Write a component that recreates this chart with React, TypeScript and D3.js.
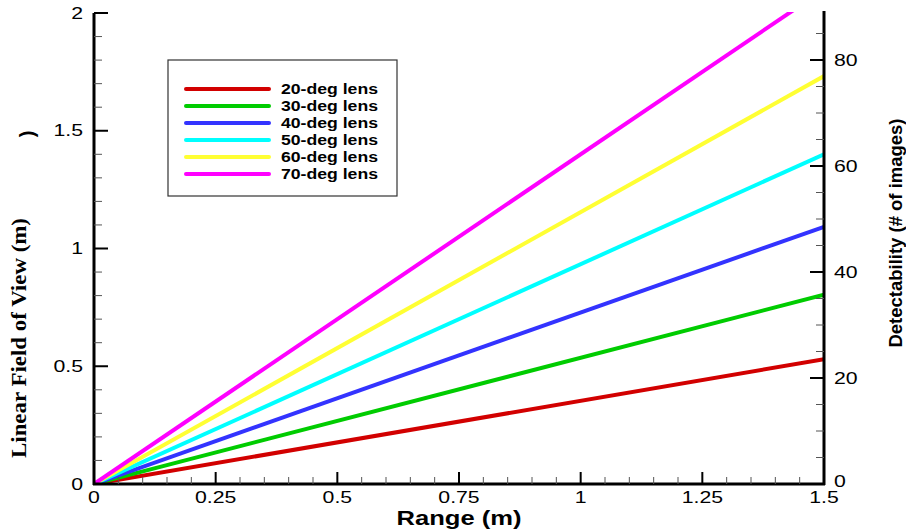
import React from "react";
import * as d3 from "d3";

const lensLabels = ["20-deg lens", "30-deg lens", "40-deg lens", "50-deg lens", "60-deg lens", "70-deg lens"];
const lensColors = ["#d20000", "#00cc00", "#3333ff", "#00ffff", "#ffff33", "#ff00ff"];
const rangeValues = [0, 1.5];
const fov20 = [0, 0.53];
const fov30 = [0, 0.804];
const fov40 = [0, 1.092];
const fov50 = [0, 1.4];
const fov60 = [0, 1.732];
const fov70 = [0, 2.1];
const seriesValues = [fov20, fov30, fov40, fov50, fov60, fov70];

const xMajor = [0, 0.25, 0.5, 0.75, 1, 1.25, 1.5];
const yMajor = [0, 0.5, 1, 1.5, 2];
const rMajor = [0, 20, 40, 60, 80];

const W = 906, H = 531;
const L = 94, R = 824, T = 13, B = 484;
const SANS = "Arial, 'Liberation Sans', sans-serif";
const SERIF = "'Times New Roman', 'Liberation Serif', serif";

export default function App() {
  const x = d3.scaleLinear().domain([0, 1.5]).range([L, R]);
  const y = d3.scaleLinear().domain([0, 2]).range([B, T]);
  const yr = d3.scaleLinear().domain([0, 88.87]).range([B, T]);
  const line = d3.line<[number, number]>().x(d => x(d[0])).y(d => y(d[1]));

  const xMinor = d3.range(0, 1.5001, 0.05).filter(v => !xMajor.some(m => Math.abs(m - v) < 1e-6));
  const yMinor = d3.range(0, 2.0001, 0.1).filter(v => !yMajor.some(m => Math.abs(m - v) < 1e-6));
  const rMinor = d3.range(5, 88, 5).filter(v => !rMajor.includes(v));
  const fmt = d3.format("");

  return (
    <svg width={W} height={H} style={{ position: "absolute", left: 0, top: 0, background: "#fff" }}>
      <defs>
        <clipPath id="plot">
          <rect x={L} y={T - 1} width={R - L} height={B - T + 1} />
        </clipPath>
      </defs>
      <g clipPath="url(#plot)">
        {seriesValues.map((s, i) => (
          <path key={i} d={line(rangeValues.map((r, j) => [r, s[j]] as [number, number])) || ""}
            fill="none" stroke={lensColors[i]} strokeWidth={4} />
        ))}
      </g>
      <g stroke="#000" fill="none">
        <line x1={L} y1={T} x2={L} y2={B + 1} strokeWidth={3} />
        <line x1={L - 1} y1={B} x2={R + 1} y2={B} strokeWidth={3} />
        <line x1={R} y1={T - 2} x2={R} y2={B + 1} strokeWidth={3} />
        {yMajor.map(v => <line key={"ym" + v} x1={L} x2={L + 14} y1={y(v)} y2={y(v)} strokeWidth={2} />)}
        {yMinor.map(v => <line key={"yn" + v} x1={L} x2={L + 8} y1={y(v)} y2={y(v)} strokeWidth={1} stroke="#555" />)}
        {xMajor.map(v => <line key={"xm" + v} x1={x(v)} x2={x(v)} y1={B} y2={B - 12} strokeWidth={2} />)}
        {xMinor.map(v => <line key={"xn" + v} x1={x(v)} x2={x(v)} y1={B} y2={B - 7} strokeWidth={1} stroke="#555" />)}
        {rMajor.map(v => <line key={"rm" + v} x1={R} x2={R - 14} y1={yr(v)} y2={yr(v)} strokeWidth={2} />)}
        {rMinor.map(v => <line key={"rn" + v} x1={R} x2={R - 8} y1={yr(v)} y2={yr(v)} strokeWidth={1} stroke="#555" />)}
      </g>
      <g fontFamily={SANS} fontSize={17} fill="#000">
        {yMajor.map(v => (
          <text key={"yl" + v} transform={`translate(${L - 11},${y(v)}) scale(1.25,1)`} textAnchor="end" dominantBaseline="central">{fmt(v)}</text>
        ))}
        {xMajor.map(v => (
          <text key={"xl" + v} transform={`translate(${x(v)},503) scale(1.25,1)`} textAnchor="middle">{fmt(v)}</text>
        ))}
        {rMajor.map(v => (
          <text key={"rl" + v} transform={`translate(${R + 10},${yr(v) - (v === 0 ? 3 : 0)}) scale(1.25,1)`} textAnchor="start" dominantBaseline="central">{v}</text>
        ))}
      </g>
      <text x={459} y={525} textAnchor="middle" fontFamily={SANS} fontWeight="bold" fontSize={20} textLength={125} lengthAdjust="spacingAndGlyphs">Range (m)</text>
      <text transform={`translate(26,338) rotate(-90)`} textAnchor="middle" fontFamily={SERIF} fontWeight="bold" fontSize={20} textLength={240} lengthAdjust="spacingAndGlyphs">Linear Field of View (m)</text>
      <text transform={`translate(34,134) rotate(-90)`} textAnchor="middle" fontFamily={SANS} fontWeight="bold" fontSize={20}>)</text>
      <text transform={`translate(902,233) rotate(-90)`} textAnchor="middle" fontFamily={SANS} fontWeight="bold" fontSize={18} textLength={229} lengthAdjust="spacingAndGlyphs">Detectability (# of images)</text>
      <rect x={168} y={60} width={229} height={136} fill="#fff" stroke="#333" strokeWidth={1.2} />
      {lensLabels.map((lab, i) => (
        <g key={lab}>
          <line x1={186} x2={269} y1={89 + i * 17} y2={89 + i * 17} stroke={lensColors[i]} strokeWidth={4} strokeLinecap="round" />
          <text x={281} y={89 + i * 17} dominantBaseline="central" fontFamily={SANS} fontWeight="bold" fontSize={14} textLength={97} lengthAdjust="spacingAndGlyphs">{lab}</text>
        </g>
      ))}
    </svg>
  );
}
